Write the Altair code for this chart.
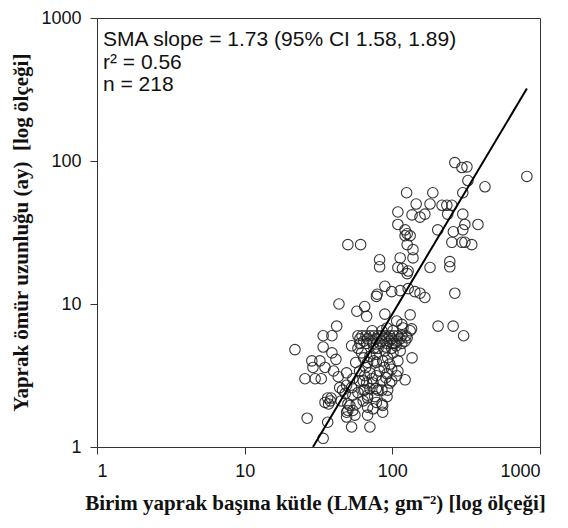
import math
import altair as alt
import pandas as pd

# ---- data (LMA in g m-2, leaf lifespan in months) ----
lma_upper = [265, 296, 320, 815, 325, 424, 125, 188, 300, 145,
             180, 217, 234, 253, 109, 136, 154, 166, 237, 300,
             109, 310, 380, 122, 126, 132, 122, 203, 259, 300,
             50, 61, 126, 138, 253, 296, 310, 345, 82, 82,
             113, 138, 109, 117, 128, 126, 180, 245, 245, 89,
             79, 99, 113, 128, 142, 154, 166, 265]
ll_upper = [97.5, 90, 91, 78, 73, 66, 60, 60, 60, 50,
            50, 49, 49, 49, 44, 42, 40.5, 42.5, 42.5, 42.5,
            36, 36, 36, 33, 31, 30, 30, 33, 32, 33,
            26, 26, 26, 24, 27, 27, 27, 26, 20.4, 18.2,
            21, 21, 18, 17.7, 17, 16.3, 18, 19.8, 18.2, 13.3,
            11.7, 12.2, 12.4, 12.8, 12.2, 11.9, 11.1, 11.9]

lma_mid = [78, 43.5, 57.5, 65, 67, 89, 132, 107, 116, 42, 92, 101, 85, 118,
           135, 204, 258, 304, 132, 126, 34, 39]
ll_mid = [11.3, 10, 8.9, 9.6, 8.2, 8.5, 8.4, 7.6, 7.2, 7.0, 6.8, 6.5, 6.5, 6.8,
          6.7, 7.0, 7.0, 6.0, 6.5, 5.8, 6.0, 6.0]

lma_band = [58.5, 62.3, 66.3, 70.5, 75, 80, 85, 90.5, 96.3, 102.5, 109, 116, 124,
            60.3, 68, 77.5, 88, 99, 113,
            60.3, 67, 74, 82.4, 92, 104, 116,
            58.5, 80, 99,
            64, 73, 84, 95, 107, 122]
ll_band = [6.0, 6.0, 6.0, 6.0, 6.0, 6.0, 6.0, 6.0, 6.0, 6.0, 6.0, 6.0, 6.0,
           5.7, 5.7, 5.7, 5.7, 5.7, 5.7,
           5.3, 5.3, 5.3, 5.3, 5.3, 5.3, 5.3,
           4.9, 4.9, 4.9,
           5.5, 5.5, 5.5, 5.5, 5.5, 5.5]

lma_lowmid = [21.9, 34, 39, 41.5, 62, 70.5, 78, 89, 101, 136,
              68, 78, 86, 96,
              28.5, 32.3, 29, 35,
              60, 70.5, 82, 92, 99, 109,
              73, 85, 99, 122,
              66, 88,
              25.6, 30, 33, 40, 43, 54, 63.5, 74, 96, 67]
ll_lowmid = [4.8, 5.0, 4.55, 4.1, 4.55, 4.3, 4.45, 4.7, 4.55, 4.2,
             3.9, 3.9, 4.0, 3.8,
             4.0, 4.0, 3.6, 3.6,
             3.4, 3.3, 3.4, 3.25, 3.5, 3.4,
             3.0, 2.9, 2.9, 2.95,
             3.6, 3.6,
             3.0, 3.0, 3.0, 3.4, 3.1, 3.0, 2.9, 2.8, 2.8, 2.8]

lma_low = [46, 53, 48, 54, 65, 78, 85, 70.5, 80, 93, 44, 49, 60, 63.5, 68,
           36.5, 37, 38, 35, 38.5, 45, 50, 51.6, 63.5, 68, 68, 78, 86, 74, 86, 68, 85,
           49, 55.8, 50, 54, 49, 26.5, 36.5, 53, 70.5, 34]
ll_low = [2.5, 2.6, 2.37, 2.3, 2.5, 2.56, 2.5, 2.56, 2.5, 2.5, 2.6, 2.7, 2.9, 2.5, 2.3,
          2.2, 2.0, 2.1, 2.05, 2.2, 2.1, 2.0, 1.95, 2.1, 1.9, 2.2, 2.05, 1.95, 1.85, 1.75, 1.67, 2.0,
          1.75, 1.67, 1.8, 1.8, 1.62, 1.59, 1.49, 1.38, 1.38, 1.15]

lma_core = [75, 90.5, 106, 64, 75, 93, 109, 56.5, 65, 78, 90.5, 107, 58.5, 76, 92,
            57, 101, 53, 49, 113, 73]
ll_core = [4.9, 5.0, 5.1, 4.2, 4.0, 4.2, 4.0, 3.9, 3.15, 3.15, 3.05, 3.15, 2.4, 2.25, 2.25,
           2.0, 5.3, 5.1, 3.3, 4.7, 6.5]

lma = lma_upper + lma_mid + lma_band + lma_lowmid + lma_low + lma_core
ll = ll_upper + ll_mid + ll_band + ll_lowmid + ll_low + ll_core
points_df = pd.DataFrame({"lma": lma, "ll": ll})

# SMA fit in log10 space
sma_slope = 1.73
sma_intercept = -2.53
fit_lma = [29.0, 815.0]
fit_ll = [10 ** (sma_intercept + sma_slope * math.log10(v)) for v in fit_lma]
fit_df = pd.DataFrame({"lma": fit_lma, "ll": fit_ll})

tick_values = [1, 10, 100, 1000]
annotations = ["SMA slope = 1.73 (95% CI 1.58, 1.89)", "r\u00b2 = 0.56", "n = 218"]

x_title = "Birim yaprak başına kütle (LMA; gm\u207b\u00b2) [log ölçeği]"
y_title = "Yaprak ömür uzunluğu (ay)\u00a0 [log ölçeği]"

x_scale = alt.Scale(type="log", domain=[1, 1000], nice=False)
y_scale = alt.Scale(type="log", domain=[1, 1000], nice=False)

common_axis = dict(
    values=tick_values, format="d", grid=False, tickSize=7,
    labelFont="Liberation Sans", labelFontSize=18, labelColor="#111",
    tickColor="#333", domainColor="#333",
    titleFont="Liberation Serif", titleFontWeight="bold", titleFontSize=21,
    titleColor="#111", titleBaseline="middle", titleAlign="center",
)

x_axis = alt.Axis(title=x_title, labelPadding=8, titleX=218, titleY=56, **common_axis)
y_axis = alt.Axis(title=y_title, labelPadding=9, titleX=-76, titleY=214, titleAngle=270,
                  **common_axis)

points = alt.Chart(points_df).mark_point(
    shape="circle", filled=False, size=110, color="#222", strokeWidth=1.1, opacity=0.9
).encode(
    x=alt.X("lma:Q", scale=x_scale, axis=x_axis),
    y=alt.Y("ll:Q", scale=y_scale, axis=y_axis),
)

line = alt.Chart(fit_df).mark_line(color="black", strokeWidth=2, clip=True).encode(
    x=alt.X("lma:Q", scale=x_scale),
    y=alt.Y("ll:Q", scale=y_scale),
)

texts = []
for txt, ypos in zip(annotations, [22, 45, 67]):
    texts.append(
        alt.Chart(pd.DataFrame({"t": [txt]})).mark_text(
            align="left", baseline="middle", font="Liberation Sans", fontSize=21, color="#111"
        ).encode(x=alt.value(6), y=alt.value(ypos), text="t:N")
    )

chart = alt.layer(points, line, *texts).properties(
    width=443, height=429,
    padding={"left": 89, "top": 10, "right": 20, "bottom": 70},
    autosize=alt.AutoSizeParams(type="none"),
).configure_view(stroke="#333", strokeWidth=1)

chart.save("out.html", embed_options={"renderer": "svg", "actions": False})
